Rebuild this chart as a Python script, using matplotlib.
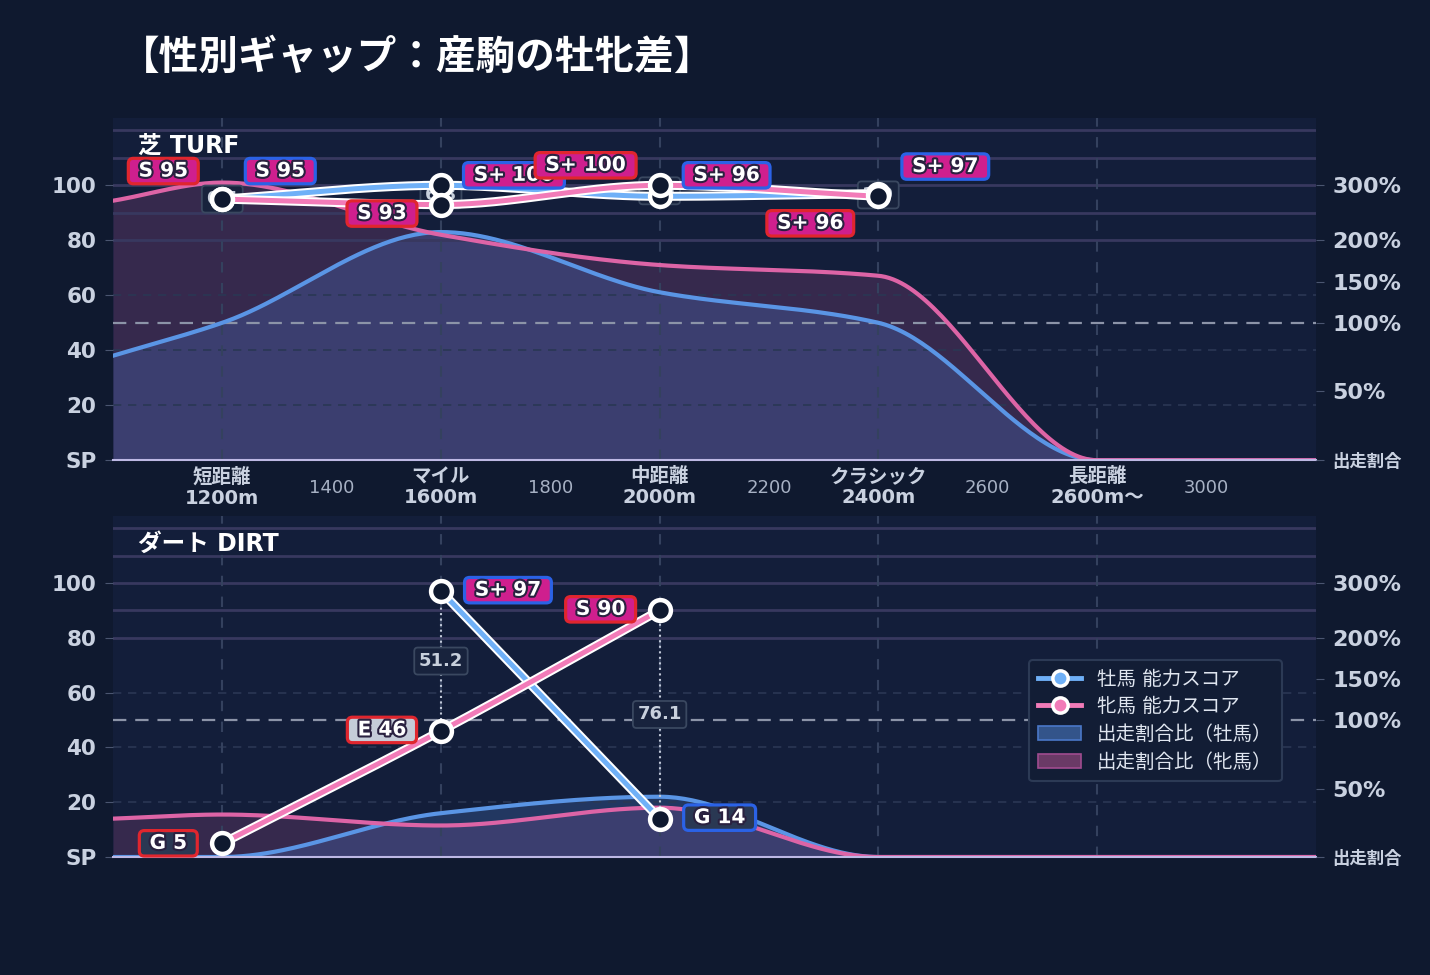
import numpy as np
import matplotlib
matplotlib.use("Agg")
import matplotlib.pyplot as plt
import matplotlib.patheffects as pe
from matplotlib.lines import Line2D
from matplotlib.patches import Patch

plt.rcParams['font.family'] = ['DejaVu Sans', 'Noto Sans CJK JP']

# ---- data ----
category_x = [1200, 1600, 2000, 2400, 2800]
category_labels = ['短距離\n1200m', 'マイル\n1600m', '中距離\n2000m', 'クラシック\n2400m', '長距離\n2600m〜']
minor_x = [1400, 1800, 2200, 2600, 3000]

# share ratio (%) of runners, male / female
share_x = [1000, 1200, 1600, 2000, 2400, 2800, 3200]
turf_male_share = [76, 100, 215, 137, 100, 0, 0]
turf_female_share = [272, 305, 210, 170, 157, 0, 0]
dirt_male_share = [0, 0, 32, 44, 0, 0, 0]
dirt_female_share = [28, 31, 23, 36, 0, 0, 0]

# ability scores
turf_x = [1200, 1600, 2000, 2400]
turf_male_score = [95, 100, 96, 97]
turf_male_grade = ['S', 'S+', 'S+', 'S+']
turf_female_score = [95, 93, 100, 96]
turf_female_grade = ['S', 'S', 'S+', 'S+']
turf_gap = ['0.4', '6.8', '3.5', '1.0']

dirt_x = [1200, 1600, 2000]
dirt_male_score = [np.nan, 97, 14]
dirt_male_grade = ['', 'S+', 'G']
dirt_female_score = [5, 46, 90]
dirt_female_grade = ['G', 'E', 'S']
dirt_gap = ['', '51.2', '76.1']

share_ticks = [0, 50, 100, 150, 200, 300]
share_tick_labels = ['出走割合', '50%', '100%', '150%', '200%', '300%']

# label offsets in pixels (dx, dy with y downwards)
turf_male_off = [(58, -28), (73, -10), (67, -21), (67, -27)]
turf_female_off = [(-59, -28), (-59, 9), (-74, -20), (-68, 27)]
dirt_male_off = [(0, 0), (67, -1), (60, -1)]
dirt_female_off = [(-54, 0), (-59, -1), (-59, -1)]

# ---- style ----
FIG_BG = '#0f192f'
AX_BG = '#131e3a'
MALE_AREA = '#5a95e5'
FEMALE_AREA = '#dd64a6'
MALE_LINE = '#6fb0f7'
FEMALE_LINE = '#f27bb8'
TICK_COLOR = '#c9d1e0'
GRADE_BG = {'S+': '#cf1f8e', 'S': '#cf1f8e', 'E': '#c5ccd8', 'G': '#2a3853'}
MALE_EDGE = '#2b62e6'
FEMALE_EDGE = '#e0262e'


def share_to_y(p):
    # piecewise scale: 0-100% -> 0-50, 100-200% -> 50-80, 200-400% -> 80-120
    return np.interp(np.asarray(p, dtype=float) / 100.0, [0, 1, 2, 3, 4], [0, 50, 80, 100, 120])


def smooth(xs, ys, n=300):
    """monotone cubic curve through the points (for drawing only)"""
    xs = np.asarray(xs, dtype=float)
    ys = np.asarray(ys, dtype=float)
    h = np.diff(xs)
    d = np.diff(ys) / h
    m = np.zeros(len(xs))
    m[0] = d[0]
    m[-1] = d[-1]
    for k in range(1, len(xs) - 1):
        if d[k - 1] * d[k] <= 0:
            m[k] = 0
        else:
            w1 = 2 * h[k] + h[k - 1]
            w2 = h[k] + 2 * h[k - 1]
            m[k] = (w1 + w2) / (w1 / d[k - 1] + w2 / d[k])
    if len(xs) > 2 and d[-1] == 0:
        m[-1] = 0
    xx = np.linspace(xs[0], xs[-1], n)
    idx = np.clip(np.searchsorted(xs, xx) - 1, 0, len(xs) - 2)
    t = (xx - xs[idx]) / h[idx]
    h00 = 2 * t**3 - 3 * t**2 + 1
    h10 = t**3 - 2 * t**2 + t
    h01 = -2 * t**3 + 3 * t**2
    h11 = t**3 - t**2
    yy = h00 * ys[idx] + h10 * h[idx] * m[idx] + h01 * ys[idx + 1] + h11 * h[idx] * m[idx + 1]
    return xx, yy


def grade_label(ax, x, y, grade, score, edge, off):
    ax.annotate(f" {grade} {score:g} ", xy=(x, y), xytext=(off[0] * 0.72, -off[1] * 0.72),
                textcoords='offset points', ha='center', va='center',
                fontsize=14.5, fontweight='bold', color='white', zorder=10,
                path_effects=[pe.withStroke(linewidth=3, foreground='#2a2140')],
                bbox=dict(boxstyle='round,pad=0.16,rounding_size=0.25', fc=GRADE_BG[grade],
                          ec=edge, lw=2.3))


def draw_panel(ax, title, male_share, female_share, xs, male_score, male_grade,
               female_score, female_grade, gaps, male_off, female_off, show_x):
    ax.set_facecolor(AX_BG)
    ax.set_xlim(1000, 3200)
    ax.set_ylim(0, 124.5)

    # grid lines
    for yv in [20, 40, 60]:
        ax.axhline(yv, color='#2a3754', lw=1.2, ls=(0, (5, 4)), zorder=1.5)
    for yv in share_to_y([200, 250, 300, 350, 400]):
        ax.axhline(yv, color='#38385f', lw=2, zorder=1.5)
    ax.axhline(share_to_y(100), color='#8c94a8', lw=1.6, ls=(0, (6, 4)), zorder=1.5)
    for xv in category_x:
        ax.axvline(xv, color='#34415e', lw=1.5, ls=(0, (5, 5)), zorder=1.5)

    # share areas
    fx, fy = smooth(share_x, share_to_y(female_share))
    mx, my = smooth(share_x, share_to_y(male_share))
    fy = np.clip(fy, 0, None)
    my = np.clip(my, 0, None)
    ax.fill_between(fx, 0, fy, color='#a04a88', alpha=0.25, lw=0, zorder=1)
    ax.fill_between(mx, 0, my, color='#4a78c8', alpha=0.28, lw=0, zorder=1.1)
    ax.plot(mx, my, color=MALE_AREA, lw=3, zorder=2)
    ax.plot(fx, fy, color=FEMALE_AREA, lw=3, zorder=2.1)

    # gap connectors and boxes
    for x, a, b, g in zip(xs, male_score, female_score, gaps):
        if np.isnan(a) or g == '':
            continue
        ax.plot([x, x], [a, b], color='#c0c8d8', lw=1.5, ls=':', zorder=3)
        ax.text(x, (a + b) / 2, g, ha='center', va='center', fontsize=13,
                fontweight='bold', color='#c8d0dc', zorder=4,
                bbox=dict(boxstyle='round,pad=0.25,rounding_size=0.2', fc='#18233d',
                          ec='#3a4860', lw=1.3))

    # score lines
    for score, col in [(male_score, MALE_LINE), (female_score, FEMALE_LINE)]:
        s = np.asarray(score, dtype=float)
        ok = ~np.isnan(s)
        lx, ly = smooth(np.asarray(xs)[ok], s[ok])
        ax.plot(lx, ly, color=col, lw=3.6, zorder=5,
                path_effects=[pe.Stroke(linewidth=6.5, foreground='white'), pe.Normal()])
        ax.plot(np.asarray(xs)[ok], s[ok], ls='none', marker='o', ms=15, mfc=FIG_BG,
                mec='white', mew=3.2, zorder=6)

    for x, s, g, o in zip(xs, male_score, male_grade, male_off):
        if not np.isnan(s):
            grade_label(ax, x, s, g, s, MALE_EDGE, o)
    for x, s, g, o in zip(xs, female_score, female_grade, female_off):
        grade_label(ax, x, s, g, s, FEMALE_EDGE, o)

    ax.text(0.021, 0.918, title, transform=ax.transAxes, fontsize=17, fontweight='bold',
            color='white', ha='left', va='center', zorder=11)

    # axes
    for sp in ['top', 'left', 'right']:
        ax.spines[sp].set_visible(False)
    ax.spines['bottom'].set_color('#bdb8e4')
    ax.spines['bottom'].set_linewidth(1.5)
    ax.spines['bottom'].set_zorder(2.5)
    ax.set_yticks([0, 20, 40, 60, 80, 100])
    ax.set_yticklabels(['SP', '20', '40', '60', '80', '100'])
    ax.tick_params(axis='y', colors='#4a5570', labelcolor=TICK_COLOR, labelsize=15.5,
                   length=6, pad=6)
    for lab in ax.get_yticklabels():
        lab.set_fontweight('bold')

    ax.set_xticks(category_x)
    ax.set_xticks(minor_x, minor=True)
    if show_x:
        ax.set_xticklabels(category_labels, fontsize=14, fontweight='bold', color=TICK_COLOR,
                           linespacing=1.15)
        ax.set_xticklabels([str(v) for v in minor_x], minor=True, fontsize=13, color='#a7b1c4')
        ax.tick_params(axis='x', which='major', length=0, pad=5)
        ax.tick_params(axis='x', which='minor', length=0, pad=13.5)
    else:
        ax.tick_params(axis='x', which='both', length=0, labelbottom=False)

    rax = ax.twinx()
    rax.set_ylim(ax.get_ylim())
    rax.set_yticks(share_to_y(share_ticks))
    rax.set_yticklabels(share_tick_labels)
    rax.tick_params(axis='y', colors='#4a5570', labelcolor=TICK_COLOR, labelsize=16,
                    length=6, pad=6)
    for i, lab in enumerate(rax.get_yticklabels()):
        lab.set_fontweight('bold')
        if i == 0:
            lab.set_fontsize(12.5)
    for sp in rax.spines.values():
        sp.set_visible(False)
    return ax


fig = plt.figure(figsize=(14.3, 9.75), dpi=100, facecolor=FIG_BG)
ax_turf = fig.add_axes([0.079, 0.528, 0.841, 0.351])
ax_dirt = fig.add_axes([0.079, 0.121, 0.841, 0.350])

draw_panel(ax_turf, '芝 TURF', turf_male_share, turf_female_share, turf_x,
           turf_male_score, turf_male_grade, turf_female_score, turf_female_grade,
           turf_gap, turf_male_off, turf_female_off, True)
draw_panel(ax_dirt, 'ダート DIRT', dirt_male_share, dirt_female_share, dirt_x,
           dirt_male_score, dirt_male_grade, dirt_female_score, dirt_female_grade,
           dirt_gap, dirt_male_off, dirt_female_off, False)

fig.text(0.084, 0.941, '【性別ギャップ：産駒の牡牝差】', fontsize=28.5, fontweight='bold',
         color='white', ha='left', va='center')

handles = [
    Line2D([], [], color=MALE_LINE, lw=3.5, marker='o', ms=11, mfc=MALE_LINE, mec='white', mew=2.5),
    Line2D([], [], color=FEMALE_LINE, lw=3.5, marker='o', ms=11, mfc=FEMALE_LINE, mec='white', mew=2.5),
    Patch(fc='#33548a', ec='#4a78c8', lw=1.2),
    Patch(fc='#6a3a66', ec='#a04c90', lw=1.2),
]
leg = ax_dirt.legend(handles, ['牡馬 能力スコア', '牝馬 能力スコア', '出走割合比（牡馬）', '出走割合比（牝馬）'],
                     loc='upper right', bbox_to_anchor=(0.972, 0.578), borderaxespad=0,
                     fontsize=14, labelcolor='#e0e6f0', facecolor='#121d35', edgecolor='#2c3a55',
                     framealpha=1, handlelength=2.2, labelspacing=0.45, borderpad=0.5,
                     handletextpad=0.8)
leg.set_zorder(12)
leg.get_frame().set_linewidth(1.5)

fig.savefig('out.png', dpi=100, facecolor=FIG_BG)
